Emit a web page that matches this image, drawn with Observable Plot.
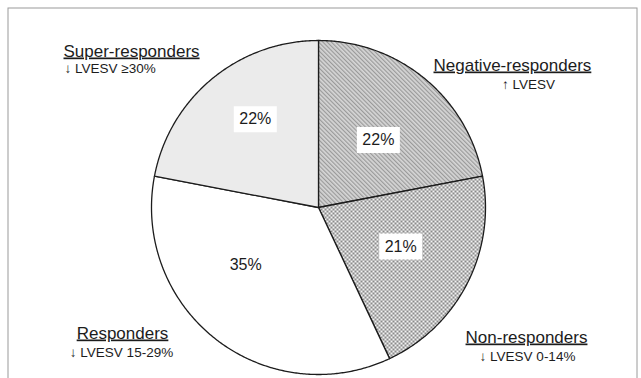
<!DOCTYPE html>
<html>
<head>
<meta charset="utf-8">
<script src="https://cdn.jsdelivr.net/npm/d3@7"></script>
<script src="https://cdn.jsdelivr.net/npm/@observablehq/plot@0.6"></script>
<style>
  body { margin: 0; background: #fff; }
  #chart svg { display: block; }
</style>
</head>
<body>
<div id="chart"></div>
<script>
// Response groups after CRT, clockwise from 12 o'clock
const categories = ["Negative-responders", "Non-responders", "Responders", "Super-responders"];
const shares = [22, 21, 35, 22];
const criteria = ["\u2191 LVESV", "\u2193 LVESV 0-14%", "\u2193 LVESV 15-29%", "\u2193 LVESV \u226530%"];

// ---- layout ----
const W = 641, H = 378;
const cx = 318, cy = 207, R = 167;          // pie centre and radius in pixels
const fills = ["url(#hatch)", "url(#checks)", "white", "url(#dots)"];
// where each percentage sits: fraction of radius, angle nudge (degrees)
const pctPlacement = [
  {r: 0.54, da: 2},
  {r: 0.545, da: -1.6},
  {r: 0.555, da: 14},
  {r: 0.65, da: 4}
];
// group names and their criteria, placed around the pie (pixels from top-left)
const titlePlacement = [
  {dx: 433, dy: 70, anchor: "start"},
  {dx: 526, dy: 342, anchor: "middle"},
  {dx: 122, dy: 338, anchor: "middle"},
  {dx: 63, dy: 56, anchor: "start"}
];
const notePlacement = [
  {dx: 528, dy: 88, anchor: "middle"},
  {dx: 527, dy: 360, anchor: "middle"},
  {dx: 121, dy: 356, anchor: "middle"},
  {dx: 64, dy: 72, anchor: "start"}
];

// data units: one unit = pie radius, y grows upward
const xDomain = [-cx / R, (W - cx) / R];
const yDomain = [-(H - cy) / R, cy / R];

const arcs = d3.pie().sort(null).value(d => d)(shares);

const slices = arcs.map((a, i) => {
  const span = a.endAngle - a.startAngle;
  const n = Math.max(4, Math.ceil(span / (Math.PI / 360)));
  const pts = [{x: 0, y: 0}];
  for (let k = 0; k <= n; k++) {
    const t = a.startAngle + span * k / n;
    pts.push({x: Math.sin(t), y: Math.cos(t)});
  }
  pts.push({x: 0, y: 0});
  return pts.map(p => ({...p, category: categories[i]}));
});

const pctLabels = arcs.map((a, i) => {
  const m = (a.startAngle + a.endAngle) / 2 + pctPlacement[i].da * Math.PI / 180;
  const r = pctPlacement[i].r;
  return {category: categories[i], label: `${shares[i]}%`, x: r * Math.sin(m), y: r * Math.cos(m)};
});

// white rectangle behind each percentage
const labelBox = {
  draw(context) { context.rect(-21.5, -13, 43, 26); }
};

const ink = "#1c1c1c";

const marks = [
  Plot.frame({stroke: "#9a9a9a", strokeWidth: 1, insetTop: 7.5, insetLeft: 7.5, insetRight: 4.5, insetBottom: -12}),
  ...slices.map((pts, i) => Plot.line(pts, {
    x: "x", y: "y", fill: fills[i], stroke: ink, strokeWidth: 1.3, strokeLinejoin: "round"
  })),
  Plot.dot(pctLabels, {x: "x", y: "y", symbol: labelBox, r: 10, fill: "white", stroke: "none"}),
  Plot.text(pctLabels, {x: "x", y: "y", text: "label", fontSize: 16, fill: ink}),
  ...categories.map((c, i) => Plot.text([c], {
    text: d => d, frameAnchor: "top-left", dx: titlePlacement[i].dx, dy: titlePlacement[i].dy,
    textAnchor: titlePlacement[i].anchor, lineAnchor: "bottom", fontSize: 17, fill: ink
  })),
  ...criteria.map((c, i) => Plot.text([c], {
    text: d => d, frameAnchor: "top-left", dx: notePlacement[i].dx, dy: notePlacement[i].dy,
    textAnchor: notePlacement[i].anchor, lineAnchor: "bottom", fontSize: 13.5, fill: ink
  }))
];

const chart = Plot.plot({
  width: W,
  height: H,
  margin: 0,
  x: {domain: xDomain, axis: null},
  y: {domain: yDomain, axis: null},
  style: {fontFamily: "'Liberation Sans', Arial, sans-serif", background: "white"},
  marks
});

// fill patterns for the shaded groups
const defs = d3.select(chart).insert("defs", ":first-child");
const hatch = defs.append("pattern").attr("id", "hatch")
  .attr("width", 3).attr("height", 3).attr("patternUnits", "userSpaceOnUse")
  .attr("patternTransform", "rotate(-45)");
hatch.append("rect").attr("width", 3).attr("height", 3).attr("fill", "#d6d6d6");
hatch.append("rect").attr("width", 1.2).attr("height", 3).attr("fill", "#9a9a9a");

const checks = defs.append("pattern").attr("id", "checks")
  .attr("width", 4).attr("height", 4).attr("patternUnits", "userSpaceOnUse");
checks.append("rect").attr("width", 4).attr("height", 4).attr("fill", "#f2f2f2");
checks.append("rect").attr("width", 2).attr("height", 2).attr("fill", "#8a8a8a");
checks.append("rect").attr("x", 2).attr("y", 2).attr("width", 2).attr("height", 2).attr("fill", "#8a8a8a");

const dots = defs.append("pattern").attr("id", "dots")
  .attr("width", 2).attr("height", 2).attr("patternUnits", "userSpaceOnUse");
dots.append("rect").attr("width", 2).attr("height", 2).attr("fill", "#f6f6f6");
dots.append("rect").attr("width", 1).attr("height", 1).attr("fill", "#cacaca");

// group names are underlined
d3.select(chart).selectAll("text")
  .filter(function () { return categories.includes(this.textContent); })
  .style("text-decoration", "underline");

document.getElementById("chart").append(chart);
</script>
</body>
</html>
